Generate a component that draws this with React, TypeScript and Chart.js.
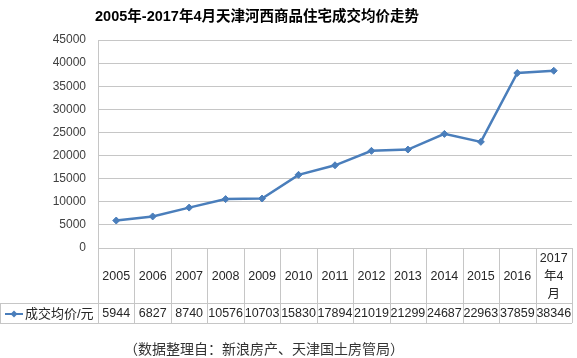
import React, { useEffect, useRef } from "react";
import { Chart, registerables } from "chart.js";

Chart.register(...registerables);

const TITLE = "2005年-2017年4月天津河西商品住宅成交均价走势";
const FOOTNOTE = "（数据整理自：新浪房产、天津国土房管局）";
const SERIES_NAME = "成交均价/元";
const categories = ["2005", "2006", "2007", "2008", "2009", "2010", "2011", "2012", "2013", "2014", "2015", "2016", "2017年4月"];
const categoryLines = [["2005"], ["2006"], ["2007"], ["2008"], ["2009"], ["2010"], ["2011"], ["2012"], ["2013"], ["2014"], ["2015"], ["2016"], ["2017", "年4", "月"]];
const prices = [5944, 6827, 8740, 10576, 10703, 15830, 17894, 21019, 21299, 24687, 22963, 37859, 38346];
const yMin = 0;
const yMax = 45000;
const yStep = 5000;

const LINE_COLOR = "#4a7ebb";
const GRID_COLOR = "#c6c6c6";
const TEXT_COLOR = "#262626";
const LATIN = "'Liberation Sans', 'Noto Sans CJK SC', sans-serif";

const tablePlugin = {
  id: "dataTable",
  afterDraw(chart: any) {
    const ctx = chart.ctx as CanvasRenderingContext2D;
    const area = chart.chartArea;
    const x = chart.scales.x;
    const n = categories.length;
    const colW = (area.right - area.left) / n;
    const top = area.bottom;
    const rowSplit = 303;
    const tableBottom = 323;
    ctx.save();
    ctx.strokeStyle = GRID_COLOR;
    ctx.lineWidth = 1;
    ctx.beginPath();
    for (let i = 0; i <= n; i++) {
      const px = Math.round(area.left + i * colW) + 0.5;
      ctx.moveTo(px, top);
      ctx.lineTo(px, tableBottom);
    }
    ctx.moveTo(0.5, rowSplit);
    ctx.lineTo(0.5, tableBottom);
    ctx.moveTo(0, rowSplit + 0.5);
    ctx.lineTo(area.right, rowSplit + 0.5);
    ctx.moveTo(0, tableBottom + 0.5);
    ctx.lineTo(area.right, tableBottom + 0.5);
    ctx.stroke();

    // header labels
    ctx.fillStyle = TEXT_COLOR;
    ctx.textAlign = "center";
    ctx.textBaseline = "middle";
    ctx.font = `12.5px ${LATIN}`;
    const headerMid = (top + rowSplit) / 2 + 1;
    categoryLines.forEach((lines, i) => {
      const cx = x.getPixelForValue(i);
      const lh = 18;
      const startY = headerMid - ((lines.length - 1) * lh) / 2;
      lines.forEach((t, j) => ctx.fillText(t, cx, startY + j * lh));
    });
    // values
    const rowMid = (rowSplit + tableBottom) / 2 + 1;
    prices.forEach((v, i) => {
      ctx.fillText(String(v), x.getPixelForValue(i), rowMid);
    });
    // legend cell
    ctx.strokeStyle = LINE_COLOR;
    ctx.lineWidth = 2;
    ctx.beginPath();
    ctx.moveTo(5, rowMid);
    ctx.lineTo(23, rowMid);
    ctx.stroke();
    ctx.fillStyle = LINE_COLOR;
    ctx.beginPath();
    ctx.moveTo(14, rowMid - 3.5);
    ctx.lineTo(17.5, rowMid);
    ctx.lineTo(14, rowMid + 3.5);
    ctx.lineTo(10.5, rowMid);
    ctx.closePath();
    ctx.fill();
    ctx.fillStyle = TEXT_COLOR;
    ctx.textAlign = "left";
    ctx.font = `13px ${LATIN}`;
    ctx.fillText(SERIES_NAME, 25, rowMid);

    // title
    ctx.textAlign = "center";
    ctx.fillStyle = "#000";
    ctx.font = `bold 14.5px ${LATIN}`;
    ctx.fillText(TITLE, 257, 17);

    // footnote
    ctx.fillStyle = "#333";
    ctx.font = `14px 'Noto Sans CJK SC', serif`;
    ctx.fillText(FOOTNOTE, 264, 349);
    ctx.restore();
  },
};

export default function App() {
  const ref = useRef<HTMLCanvasElement>(null);
  useEffect(() => {
    const prevMargin = document.body.style.margin;
    document.body.style.margin = "0";
    const chart = new Chart(ref.current!, {
      type: "line",
      data: {
        labels: categories,
        datasets: [
          {
            label: SERIES_NAME,
            data: prices,
            borderColor: LINE_COLOR,
            backgroundColor: LINE_COLOR,
            borderWidth: 2.5,
            pointStyle: "rectRot",
            pointRadius: 3.5,
            pointBorderWidth: 1,
            tension: 0,
          },
        ],
      },
      options: {
        responsive: false,
        animation: false,
        devicePixelRatio: 1,
        layout: { padding: { top: 40, bottom: 110, left: 0, right: 0 } },
        plugins: {
          legend: { display: false },
          title: { display: false },
          tooltip: { enabled: false },
        },
        scales: {
          x: { display: false, offset: true },
          y: {
            min: yMin,
            max: yMax,
            afterFit: (s: any) => {
              s.width = 98;
            },
            ticks: {
              stepSize: yStep,
              color: "#404040",
              padding: 12,
              font: { size: 12, family: LATIN },
              callback: (v: any) => String(v),
            },
            grid: { color: GRID_COLOR, drawTicks: false },
            border: { display: true, color: GRID_COLOR },
          },
        },
      },
      plugins: [tablePlugin],
    });
    return () => {
      chart.destroy();
      document.body.style.margin = prevMargin;
    };
  }, []);
  return (
    <div style={{ position: "fixed", left: 0, top: 0, width: 577, height: 358, background: "#fff" }}>
      <canvas ref={ref} width={577} height={358} />
    </div>
  );
}
